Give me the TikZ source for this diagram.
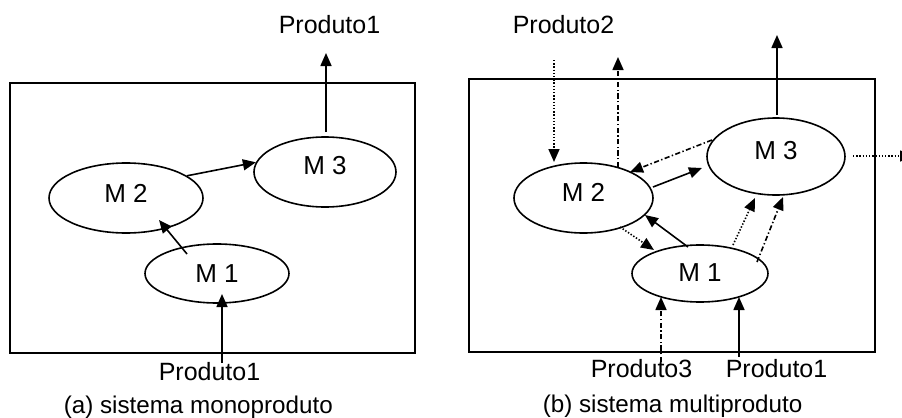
\documentclass[tikz,border=0pt]{standalone}
\usepackage{fontspec}
\setmainfont{Liberation Sans}
\usetikzlibrary{shapes.geometric,arrows.meta}
\begin{document}
\begin{tikzpicture}[x=0.5pt,y=-0.5pt,
  font=\fontsize{12.5}{14}\selectfont,
  line width=0.8pt,
  mach/.style={draw,ellipse,inner sep=0pt},
  mlabel/.style={font=\fontsize{13}{15}\selectfont},
  txt/.style={anchor=base west,inner sep=0pt},
  captxt/.style={txt,font=\fontsize{12.1}{14}\selectfont},
  arr/.style={-{Triangle[width=5.5pt,length=6.5pt]}},
  dotline/.style={dash pattern=on 0.7pt off 0.9pt},
  dashdot/.style={dash pattern=on 2.6pt off 1.2pt on 0.7pt off 1.2pt},
  frame/.style={draw,line width=0.9pt}]
\clip (0,0) rectangle (902,418);

% ---------- (a) single-product system ----------
\draw[frame] (10,83) rectangle (415,353);
\node[mach,minimum width=77pt,minimum height=35pt] (m2a) at (126,198) {};
\node[mach,minimum width=71pt,minimum height=35pt] (m3a) at (325,172) {};
\node[mach,minimum width=72pt,minimum height=29.5pt] (m1a) at (217,273.5) {};
\node[mlabel] at ([yshift=2.5pt]m2a.center) {M 2};
\node[mlabel] at ([yshift=3pt]m3a.center) {M 3};
\node[mlabel] at (m1a.center) {M 1};

\node[txt] (pa1top) at (278,33) {Produto1};
\node[txt] (pa1bot) at (158,380) {Produto1};
\node[captxt] (capa) at (63,413) {(a) sistema monoproduto};
\coordinate (outa) at (326,53);
\coordinate (ina) at (222,363);

\draw[arr] ([shift={(1,-40)}]m3a.center) -- (outa);
\draw[arr] (m2a.20) -- (m3a.172);
\draw[arr] ([shift={(-30,-19.5)}]m1a.center) -- ([shift={(33,22)}]m2a.center);
\draw[arr] (ina) -- ([shift={(5,20.5)}]m1a.center);

% ---------- (b) multi-product system ----------
\draw[frame] (469,79) rectangle (875,352);
\node[mach,minimum width=69.5pt,minimum height=35pt] (m2b) at (583.5,198) {};
\node[mach,minimum width=69pt,minimum height=38.5pt] (m3b) at (776,156.5) {};
\node[mach,minimum width=68pt,minimum height=28.5pt] (m1b) at (700,273.5) {};
\node[mlabel] at ([yshift=3pt]m2b.center) {M 2};
\node[mlabel] at ([yshift=3pt]m3b.center) {M 3};
\node[mlabel] at ([yshift=0.5pt]m1b.center) {M 1};

\node[txt] (pb2) at (512,33) {Produto2};
\node[txt] (pb3) at (590,377) {Produto3};
\node[txt] (pb1) at (725,377) {Produto1};
\node[captxt] (capb) at (542,412) {(b) sistema multiproduto};

\coordinate (in2) at (554,60);
\coordinate (out2) at (618,57);
\coordinate (out1) at (777,35);
\coordinate (out3) at (913,156);
\coordinate (in3) at (661,362);
\coordinate (in1) at (739,357);

% product 2 enters at M2 and leaves after M3
\draw[arr,dotline] (in2) -- ([shift={(-29.5,-36)}]m2b.center);
\draw[arr,dashdot] ([shift={(34.5,-31)}]m2b.center) -- (out2);
\draw[arr] ([shift={(1,-41.5)}]m3b.center) -- (out1);
\draw[arr,dotline] ([shift={(77,-0.5)}]m3b.center) -- (out3);

% flows between machines
\draw[arr,dashdot] ([shift={(-64,-16.5)}]m3b.center) -- ([shift={(46.5,-26)}]m2b.center);
\draw[arr] ([shift={(69.5,-11)}]m2b.center) -- ([shift={(-74,11.5)}]m3b.center);
\draw[arr] ([shift={(-12,-26.5)}]m1b.center) -- ([shift={(61.5,17)}]m2b.center);
\draw[arr,dotline] ([shift={(36.5,29)}]m2b.center) -- ([shift={(-46,-23.5)}]m1b.center);
\draw[arr,dotline] ([shift={(33,-28.5)}]m1b.center) -- ([shift={(-21,41.5)}]m3b.center);
\draw[arr,dashdot] ([shift={(57,-11.5)}]m1b.center) -- ([shift={(7,40.5)}]m3b.center);

% inputs at M1
\draw[arr,dashdot] (in3) -- ([shift={(-39,23.5)}]m1b.center);
\draw[arr] (in1) -- ([shift={(39,23.5)}]m1b.center);
\end{tikzpicture}
\end{document}
